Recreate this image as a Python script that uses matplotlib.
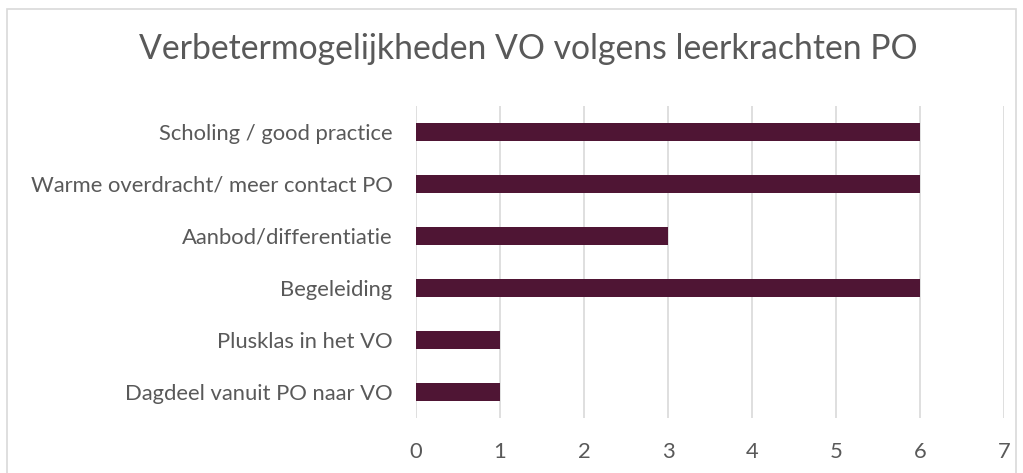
import matplotlib.pyplot as plt
from matplotlib.patches import Rectangle

# data (bottom to top)
categories = [
    "Dagdeel vanuit PO naar VO",
    "Plusklas in het VO",
    "Begeleiding",
    "Aanbod/differentiatie",
    "Warme overdracht/ meer contact PO",
    "Scholing / good practice",
]
values = [1, 1, 6, 3, 6, 6]

plt.rcParams["font.family"] = ["Lato", "DejaVu Sans"]
text_color = "#595959"
bar_color = "#4F1534"

fig = plt.figure(figsize=(10.23, 4.73), dpi=100)
ax = fig.add_axes([0.4067, 0.1163, 0.5747, 0.6596])

ax.barh(categories, values, height=0.35, color=bar_color, zorder=3)

ax.set_xlim(0, 7)
ax.set_ylim(-0.5, len(categories) - 0.5)
ax.set_xticks(range(0, 8))
ax.grid(axis="x", color="#D9D9D9", linewidth=1.2, zorder=0)
for s in ax.spines.values():
    s.set_visible(False)
ax.tick_params(axis="both", length=0, colors=text_color, labelsize=15.8)
ax.tick_params(axis="y", pad=17)
ax.tick_params(axis="x", pad=17)

fig.text(0.516, 0.897, "Verbetermogelijkheden VO volgens leerkrachten PO",
         ha="center", va="center", fontsize=24.3, color=text_color)

# chart border
fig.patches.append(Rectangle((7 / 1023, -0.05), 1009 / 1023, 1 - 9 / 473 + 0.05,
                             transform=fig.transFigure, fill=False,
                             edgecolor="#D9D9D9", linewidth=1.2))

fig.savefig("out.png", dpi=100)
